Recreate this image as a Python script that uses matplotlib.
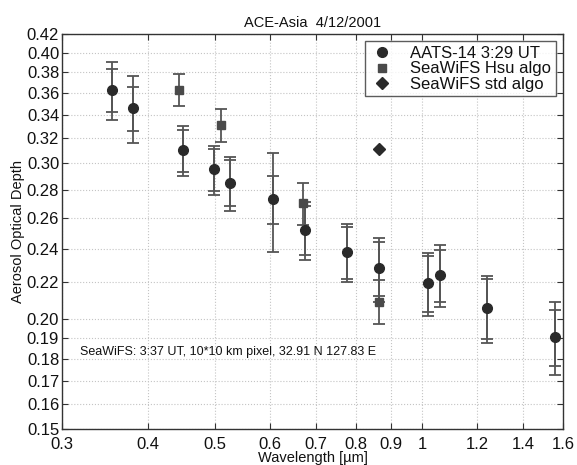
import matplotlib
matplotlib.use("Agg")
import matplotlib.pyplot as plt
from matplotlib.ticker import FixedLocator, FixedFormatter, NullLocator

plt.rcParams['font.family'] = ['Liberation Sans', 'DejaVu Sans']

# AATS-14 sunphotometer
aats_wl = [0.354, 0.380, 0.449, 0.499, 0.525, 0.606, 0.675, 0.778, 0.865, 1.019, 1.059, 1.241, 1.558]
aats_aod = [0.363, 0.346, 0.310, 0.295, 0.285, 0.273, 0.252, 0.238, 0.228, 0.2195, 0.224, 0.2056, 0.1906]
aats_err_outer = [0.027, 0.030, 0.020, 0.019, 0.020, 0.035, 0.019, 0.018, 0.019, 0.018, 0.018, 0.018, 0.018]
aats_err_inner = [0.020, 0.020, 0.017, 0.016, 0.017, 0.017, 0.016, 0.016, 0.016, 0.016, 0.015, 0.016, 0.014]

# SeaWiFS Hsu algorithm
hsu_wl = [0.443, 0.510, 0.670, 0.865]
hsu_aod = [0.363, 0.331, 0.270, 0.209]
hsu_err = [0.015, 0.014, 0.015, 0.012]

# SeaWiFS standard algorithm
std_wl = [0.865]
std_aod = [0.311]

xticks = [0.3, 0.4, 0.5, 0.6, 0.7, 0.8, 0.9, 1.0, 1.2, 1.4, 1.6]
xlabels = ['0.3', '0.4', '0.5', '0.6', '0.7', '0.8', '0.9', '1', '1.2', '1.4', '1.6']
yticks = [0.15, 0.16, 0.17, 0.18, 0.19, 0.20, 0.22, 0.24, 0.26, 0.28, 0.30,
          0.32, 0.34, 0.36, 0.38, 0.40, 0.42]
ylabels = ['%.2f' % v for v in yticks]

fig = plt.figure(figsize=(5.77, 4.65), dpi=100)
ax = fig.add_axes([0.1075, 0.0774, 0.8685, 0.8496])

ebc = '#555555'
ax.errorbar(aats_wl, aats_aod, yerr=aats_err_outer, fmt='none', ecolor=ebc,
            elinewidth=1.3, capsize=4, capthick=1.3, zorder=2)
ax.errorbar(aats_wl, aats_aod, yerr=aats_err_inner, fmt='none', ecolor=ebc,
            elinewidth=1.3, capsize=4, capthick=1.3, zorder=2)
ax.errorbar(hsu_wl, hsu_aod, yerr=hsu_err, fmt='none', ecolor=ebc,
            elinewidth=1.3, capsize=4, capthick=1.3, zorder=2)

ax.plot(aats_wl, aats_aod, 'o', color='#2a2a2a', markersize=7, label='AATS-14 3:29 UT', zorder=4)
ax.plot(hsu_wl, hsu_aod, 's', color='#4a4a4a', markersize=6, label='SeaWiFS Hsu algo', zorder=4)
ax.plot(std_wl, std_aod, 'D', color='#2a2a2a', markersize=6, label='SeaWiFS std algo', zorder=4)

ax.set_xscale('log')
ax.set_yscale('log')
ax.set_xlim(0.3, 1.6)
ax.set_ylim(0.15, 0.42)
ax.xaxis.set_major_locator(FixedLocator(xticks))
ax.xaxis.set_major_formatter(FixedFormatter(xlabels))
ax.xaxis.set_minor_locator(NullLocator())
ax.yaxis.set_major_locator(FixedLocator(yticks))
ax.yaxis.set_major_formatter(FixedFormatter(ylabels))
ax.yaxis.set_minor_locator(NullLocator())

ax.tick_params(direction='in', top=True, right=True, length=4, labelsize=12,
               labelcolor='#111111', color='#333333')
ax.tick_params(axis='y', pad=2)
ax.tick_params(axis='x', pad=6)
ax.grid(True, linestyle=':', color='#c4c4c4', linewidth=0.8)
for s in ax.spines.values():
    s.set_color('#333333')
    s.set_linewidth(1.0)

ax.set_title('ACE-Asia  4/12/2001', fontsize=10.5, color='#111111', pad=5)
ax.set_xlabel('Wavelength [\u00b5m]', fontsize=10.5, color='#111111', labelpad=-1)
ax.set_ylabel('Aerosol Optical Depth', fontsize=10.5, color='#111111', labelpad=1)

ax.text(0.3186, 0.1833, 'SeaWiFS: 3:37 UT, 10*10 km pixel, 32.91 N 127.83 E',
        fontsize=9, color='#111111', va='center', ha='left')

leg = ax.legend(loc='upper right', fontsize=12, frameon=True, fancybox=False,
                edgecolor='#333333', borderpad=0.25, handletextpad=0.9,
                labelspacing=0.05, borderaxespad=0.45, handlelength=1.6)
leg.get_frame().set_linewidth(1.0)
for t in leg.get_texts():
    t.set_color('#111111')

fig.savefig('out.png', dpi=100)
